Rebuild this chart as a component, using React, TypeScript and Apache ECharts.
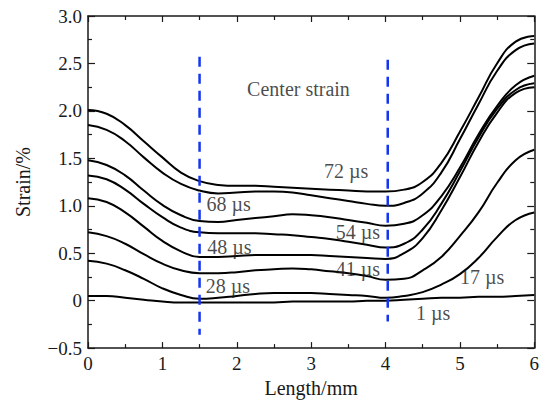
import React, { useEffect, useRef } from 'react';
import * as echarts from 'echarts';

const FONT = '"Liberation Serif", "Times New Roman", serif';
const INK = '#1a1a1a';

// Length positions (mm)
const X_MM = [0, 0.25, 0.5, 0.75, 1, 1.25, 1.5, 1.75, 2, 2.25, 2.5, 2.75, 3, 3.25, 3.5, 3.75, 4, 4.25, 4.5, 4.75, 5, 5.25, 5.5, 5.75, 6];

// Strain (%) per time step
const S72 = [2.01, 1.97, 1.85, 1.68, 1.51, 1.35, 1.26, 1.22, 1.21, 1.21, 1.2, 1.19, 1.18, 1.17, 1.16, 1.15, 1.15, 1.17, 1.25, 1.45, 1.78, 2.14, 2.5, 2.73, 2.79];
const S68 = [1.85, 1.8, 1.68, 1.51, 1.35, 1.23, 1.16, 1.13, 1.14, 1.15, 1.15, 1.14, 1.11, 1.08, 1.05, 1.02, 1.0, 1.03, 1.13, 1.35, 1.7, 2.07, 2.42, 2.64, 2.71];
const S54 = [1.48, 1.43, 1.32, 1.16, 1.01, 0.9, 0.84, 0.83, 0.85, 0.87, 0.89, 0.91, 0.9, 0.88, 0.85, 0.82, 0.79, 0.81, 0.9, 1.1, 1.4, 1.75, 2.05, 2.27, 2.37];
const S48 = [1.32, 1.28, 1.17, 1.02, 0.88, 0.77, 0.72, 0.71, 0.71, 0.71, 0.7, 0.69, 0.67, 0.65, 0.62, 0.59, 0.56, 0.6, 0.75, 1.02, 1.36, 1.72, 2.02, 2.22, 2.29];
const S41 = [1.08, 1.04, 0.93, 0.78, 0.63, 0.52, 0.46, 0.46, 0.47, 0.48, 0.48, 0.48, 0.48, 0.47, 0.46, 0.45, 0.44, 0.5, 0.66, 0.95, 1.3, 1.67, 1.98, 2.19, 2.25];
const S28 = [0.72, 0.68, 0.6, 0.49, 0.39, 0.32, 0.29, 0.29, 0.3, 0.32, 0.33, 0.34, 0.33, 0.31, 0.29, 0.26, 0.22, 0.23, 0.32, 0.46, 0.68, 0.93, 1.24, 1.48, 1.59];
const S17 = [0.42, 0.39, 0.32, 0.23, 0.13, 0.06, 0.02, 0.03, 0.05, 0.07, 0.08, 0.08, 0.08, 0.07, 0.06, 0.05, 0.03, 0.05, 0.09, 0.17, 0.28, 0.45, 0.67, 0.85, 0.93];
const S1 = [0.05, 0.05, 0.03, 0.01, -0.01, -0.02, -0.02, -0.02, -0.02, -0.02, -0.02, -0.01, -0.01, -0.01, -0.01, 0.0, 0.0, 0.01, 0.02, 0.03, 0.03, 0.04, 0.04, 0.05, 0.06];

const SERIES_NAMES = ['72 µs', '68 µs', '54 µs', '48 µs', '41 µs', '28 µs', '17 µs', '1 µs'];
const SERIES_DATA = [S72, S68, S54, S48, S41, S28, S17, S1];

// Dashed marker lines: [x, yTop, yBottom]
const MARKER_1 = [1.5, 2.57, -0.36];
const MARKER_2 = [4.03, 2.54, -0.22];

// Annotations in data coordinates: [x, y, text]
const ANNOTATIONS: [number, number, string][] = [
  [2.83, 2.23, 'Center strain'],
  [3.47, 1.37, '72 µs'],
  [1.89, 1.02, '68 µs'],
  [3.63, 0.725, '54 µs'],
  [1.9, 0.57, '48 µs'],
  [3.63, 0.333, '41 µs'],
  [1.88, 0.152, '28 µs'],
  [5.3, 0.25, '17 µs'],
  [4.64, -0.13, '1 µs'],
];

const Y_MIN = -0.5;
const Y_MAX = 3.0;
const X_MIN = 0;
const X_MAX = 6;

export default function App() {
  const ref = useRef<HTMLDivElement>(null);
  useEffect(() => {
    const chart = echarts.init(ref.current!, null, { renderer: 'svg' });
    const axisLine = { show: true, onZero: false, lineStyle: { color: INK, width: 1.5 } };
    const tick = { show: true, inside: true, length: 6, lineStyle: { color: INK, width: 1.2 } };
    const minor = { show: true, splitNumber: 2, length: 4, lineStyle: { color: INK, width: 1.2 } };
    const labelStyle = { fontFamily: FONT, fontSize: 19, color: INK };
    const fmtY = (v: number) => (v === 0 ? '0' : (v < 0 ? '\u2212' : '') + Math.abs(v).toFixed(1));

    const curveSeries = SERIES_DATA.map((arr, i) => ({
      type: 'line',
      name: SERIES_NAMES[i],
      data: X_MM.map((x, j) => [x, arr[j]]),
      smooth: 0.5,
      showSymbol: false,
      symbol: 'none',
      lineStyle: { color: '#000', width: 2 },
      z: 3,
    }));

    const markerSeries = [MARKER_1, MARKER_2].map((m) => ({
      type: 'line',
      data: [
        [m[0], m[1]],
        [m[0], m[2]],
      ],
      symbol: 'none',
      lineStyle: { color: '#1436f0', width: 2.5, type: [10, 7] },
      z: 4,
    }));

    chart.setOption({
      animation: false,
      backgroundColor: '#fff',
      grid: { left: 88, right: 7, top: 16, bottom: 54 },
      xAxis: [
        {
          type: 'value', min: X_MIN, max: X_MAX, interval: 1, position: 'bottom',
          axisLine, axisTick: tick, minorTick: minor,
          splitLine: { show: false }, minorSplitLine: { show: false },
          axisLabel: { ...labelStyle, margin: 6 },
          name: 'Length/mm', nameLocation: 'middle', nameGap: 28,
          nameTextStyle: { fontFamily: FONT, fontSize: 20, color: INK },
        },
        {
          type: 'value', min: X_MIN, max: X_MAX, interval: 1, position: 'top',
          axisLine, axisTick: tick, minorTick: minor,
          splitLine: { show: false }, axisLabel: { show: false },
        },
      ],
      yAxis: [
        {
          type: 'value', min: Y_MIN, max: Y_MAX, interval: 0.5, position: 'left',
          axisLine, axisTick: { ...tick, length: 7 }, minorTick: minor,
          splitLine: { show: false },
          axisLabel: { ...labelStyle, margin: 6, formatter: fmtY },
          name: 'Strain/%', nameLocation: 'middle', nameGap: 55, nameRotate: 90,
          nameTextStyle: { fontFamily: FONT, fontSize: 20, color: INK },
        },
        {
          type: 'value', min: Y_MIN, max: Y_MAX, interval: 0.5, position: 'right',
          axisLine, axisTick: { ...tick, length: 7 }, minorTick: minor,
          splitLine: { show: false }, axisLabel: { show: false },
        },
      ],
      series: [
        ...curveSeries,
        ...markerSeries,
        {
          type: 'scatter',
          data: ANNOTATIONS.map((a) => [a[0], a[1], a[2]]),
          symbolSize: 1,
          itemStyle: { color: 'rgba(0,0,0,0)' },
          label: {
            show: true,
            position: 'inside',
            formatter: (p: any) => p.data[2],
            fontFamily: FONT,
            fontSize: 20,
            color: INK,
          },
          z: 5,
        },
      ],
    });
    return () => chart.dispose();
  }, []);
  return <div ref={ref} style={{ position: 'absolute', left: 0, top: 0, width: 542, height: 403 }} />;
}
